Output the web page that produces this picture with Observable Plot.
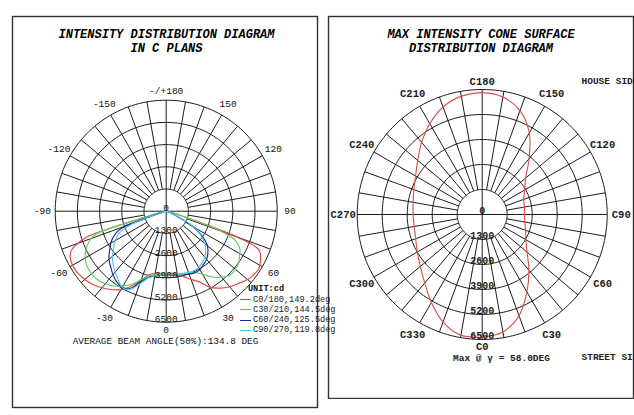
<!DOCTYPE html>
<html><head><meta charset="utf-8">
<script src="https://cdn.jsdelivr.net/npm/d3@7"></script>
<script src="https://cdn.jsdelivr.net/npm/@observablehq/plot@0.6"></script>
<style>
html,body{margin:0;padding:0;background:#fff;}
#fig{position:relative;width:634px;height:415px;overflow:hidden;background:#fff;font-family:"Liberation Mono","DejaVu Sans Mono",monospace;color:#111;}
.abs{position:absolute;white-space:pre;line-height:1;}
.c{transform:translate(-50%,-50%);}
.l{transform:translate(0,-50%);}
.title{font-weight:bold;font-style:italic;font-size:12px;color:#000;}
#leftPlot{position:absolute;left:11px;top:15px;width:307px;height:393px;}
#rightPlot{position:absolute;left:327px;top:15px;width:307px;height:384px;}
</style></head>
<body><div id="fig"><div id="leftPlot"></div><div id="rightPlot"></div></div>
<script>
// ---------- data ----------
const gamma = [-90,-80,-76,-74,-72,-70,-68,-66,-64,-62,-60,-58,-55,-50,-45,-40,-35,-30,-25,-20,-15,-10,-5,
  0,5,10,15,20,25,30,35,40,45,50,55,58,60,62,64,66,68,70,72,74,76,80,90];
const c0_180 = [0,150,350,1500,4900,5500,5950,6150,6250,6300,6330,6340,6320,6220,6070,5850,5600,5300,4850,4300,3850,3700,3650,
  3640,3650,3720,3950,4250,4550,5150,5500,5780,5980,6230,6350,6380,6330,6250,6150,6030,5750,4400,1800,800,400,150,0];
const c30_210 = [0,150,400,1500,4300,4700,4900,5080,5250,5380,5480,5560,5650,5700,5680,5550,5350,5050,4700,4250,3900,3760,3700,
  3680,3690,3720,3760,3830,3980,4250,4700,5050,5280,5300,5200,5050,4980,4900,4750,4550,4200,3500,1500,700,350,150,0];
const c60_240 = [0,80,150,250,700,2600,3000,3250,3450,3600,3750,3850,4050,4380,4600,4850,5050,5150,5000,4400,4000,3850,3780,
  3760,3780,3800,3850,3920,3980,3950,3800,3680,3450,3150,2600,2150,1800,1300,800,400,250,150,100,60,40,0,0];
const c90_270 = [0,80,150,300,900,1900,2500,2900,3150,3300,3450,3590,3750,4100,4400,4650,4900,5150,5050,4550,4050,3850,3780,
  3760,3770,3780,3800,3830,3850,3800,3680,3520,3280,2950,2500,2200,1900,1500,950,500,300,180,100,60,30,0,0];
const seriesNames = ["C0/180,149.2deg","C30/210,144.5deg","C60/240,125.5deg","C90/270,119.8deg"];
const seriesColors = ["#e5463d","#5fcf5f","#1b2a8e","#4fc4f0"];
const ringValues = [1300,2600,3900,5200,6500];
const leftTickAngles = [0,30,60,90,120,150,180,-150,-120,-90,-60,-30];
const leftTickLabels = ["0","30","60","90","120","150","-/+180","-150","-120","-90","-60","-30"];
const coneC = [0,10,20,30,40,50,60,70,80,90,100,110,120,130,140,150,160,170,180,190,200,210,220,230,240,250,260,270,280,290,300,310,320,330,340,350,360];
const coneI = [6380,6200,5600,4650,3780,3050,2620,2400,2250,2200,2230,2300,2550,2950,3800,4900,5750,6200,6340,6250,5950,5450,4900,4380,4000,3780,3650,3590,3590,3680,3900,4200,4650,5280,5950,6370,6380];
const rightTickAngles = [0,30,60,90,120,150,180,210,240,270,300,330];
const rightTickLabels = ["C0","C30","C60","C90","C120","C150","C180","C210","C240","C270","C300","C330"];

// ---------- helpers ----------
const rad = d => d * Math.PI / 180;
const px = (a, r) => r * Math.sin(rad(a));
const py = (a, r) => -r * Math.cos(rad(a));
const RMAX = ringValues[ringValues.length - 1];
const FONT = "Liberation Mono";

function polarGrid(col, sw) {
  const ringPts = ringValues.flatMap(r => d3.range(0, 361, 2).map(a => ({r, a})));
  const spokes = d3.range(0, 360, 10).filter(a => a % 90 !== 0);
  return [
    Plot.line(ringPts, {x: d => px(d.a, d.r), y: d => py(d.a, d.r), z: "r", stroke: col, strokeWidth: sw}),
    Plot.link(spokes, {x1: a => px(a, ringValues[0]), y1: a => py(a, ringValues[0]), x2: a => px(a, RMAX), y2: a => py(a, RMAX), stroke: col, strokeWidth: sw}),
    Plot.link([0, 90], {x1: a => px(a, -RMAX), y1: a => py(a, -RMAX), x2: a => px(a, RMAX), y2: a => py(a, RMAX), stroke: col, strokeWidth: sw})
  ];
}

// ---------- left chart ----------
const leftSeries = [c0_180, c30_210, c60_240, c90_270];
const leftData = leftSeries.flatMap((vals, k) => gamma.map((g, i) => ({series: seriesNames[k], g, I: vals[i]})));
const radialLabels = [0, ...ringValues];
const leftLabR = a => (a === 0 ? 6930 : a === 180 ? 7050 : 7250);   // label offset outside the outer ring
const rightLabR = a => (a === 0 ? 6880 : a === 180 ? 6930 : 7230);

const left = Plot.plot({
  width: 307, height: 393, margin: 1,
  style: {background: "transparent", overflow: "visible"},
  x: {domain: [-RMAX, RMAX], range: [43.7, 265.7], axis: null},
  y: {domain: [-RMAX, RMAX], range: [306.7, 84.7], axis: null},
  color: {domain: seriesNames, range: seriesColors},
  marks: [
    Plot.frame({stroke: "#333", strokeWidth: 1.4}),
    ...polarGrid("#111", 0.95),
    Plot.line(leftData, {x: d => px(d.g, d.I), y: d => py(d.g, d.I), z: "series", stroke: "series", strokeWidth: 1.15, curve: "catmull-rom"}),
    Plot.text(leftTickAngles.map((a, i) => ({a, t: leftTickLabels[i]})), {x: d => px(d.a, leftLabR(d.a)), y: d => py(d.a, leftLabR(d.a)), text: "t", fontSize: 9.5, fontFamily: FONT, fill: "#111"}),
    Plot.text(radialLabels, {x: 0, y: d => -d, text: d => String(d), dy: -3, fontSize: 9.5, fontFamily: FONT, fill: "#111"})
  ]
});
document.getElementById("leftPlot").appendChild(left);

// ---------- right chart ----------
const coneData = coneC.map((c, i) => ({c, I: coneI[i]}));
const right = Plot.plot({
  width: 307, height: 384, margin: 1,
  style: {background: "transparent"},
  x: {domain: [-RMAX, RMAX], range: [29.7, 279.7], axis: null},
  y: {domain: [-RMAX, RMAX], range: [324, 74], axis: null},
  marks: [
    Plot.frame({stroke: "#333", strokeWidth: 1.4}),
    ...polarGrid("#111", 0.95),
    Plot.line(coneData, {x: d => px(d.c, d.I), y: d => py(d.c, d.I), stroke: "#d9524c", strokeWidth: 1.15, curve: "catmull-rom"}),
    Plot.text(rightTickAngles.map((a, i) => ({a, t: rightTickLabels[i]})), {x: d => px(d.a, rightLabR(d.a)), y: d => py(d.a, rightLabR(d.a)), text: "t", fontSize: 10.5, fontWeight: "bold", fontFamily: FONT, fill: "#222"}),
    Plot.text(radialLabels, {x: 0, y: d => -d, text: d => String(d), dy: -4, fontSize: 10, fontWeight: "bold", fontFamily: FONT, fill: "#222"})
  ]
});
document.getElementById("rightPlot").appendChild(right);

// ---------- overlay texts ----------
const fig = document.getElementById("fig");
function addText(txt, x, y, cls, style) {
  const d = document.createElement("div");
  d.className = "abs " + cls;
  d.textContent = txt;
  d.style.left = x + "px"; d.style.top = y + "px";
  Object.assign(d.style, style || {});
  fig.appendChild(d);
}
addText("INTENSITY DISTRIBUTION DIAGRAM", 166.5, 35, "c title");
addText("IN C PLANS", 166.5, 48.5, "c title");
addText("MAX INTENSITY CONE SURFACE", 481, 35, "c title");
addText("DISTRIBUTION DIAGRAM", 481, 48.5, "c title");
addText("AVERAGE BEAM ANGLE(50%):134.8 DEG", 165.5, 341.5, "c", {fontSize: "9.4px", color: "#111"});
addText("UNIT:cd", 266, 288.5, "c", {fontSize: "8.6px", fontWeight: "bold", color: "#111"});
seriesNames.forEach((name, i) => {
  const y = 299.5 + i * 10.3;
  const ln = document.createElement("div");
  ln.className = "abs";
  Object.assign(ln.style, {left: "240px", top: (y - 0.5) + "px", width: "11px", height: "0", borderTop: "1px solid " + seriesColors[i]});
  fig.appendChild(ln);
  addText(name, 253, y, "l", {fontSize: "8.6px", color: "#222"});
});
addText("HOUSE SIDE", 581.5, 82, "l", {fontSize: "9.5px", fontWeight: "bold", color: "#222"});
addText("STREET SIDE", 581.5, 358, "l", {fontSize: "9.5px", fontWeight: "bold", color: "#222"});
addText("Max @ \u03b3 = 58.0DEG", 501.5, 359, "c", {fontSize: "9.5px", fontWeight: "bold", color: "#222"});
</script></body></html>
